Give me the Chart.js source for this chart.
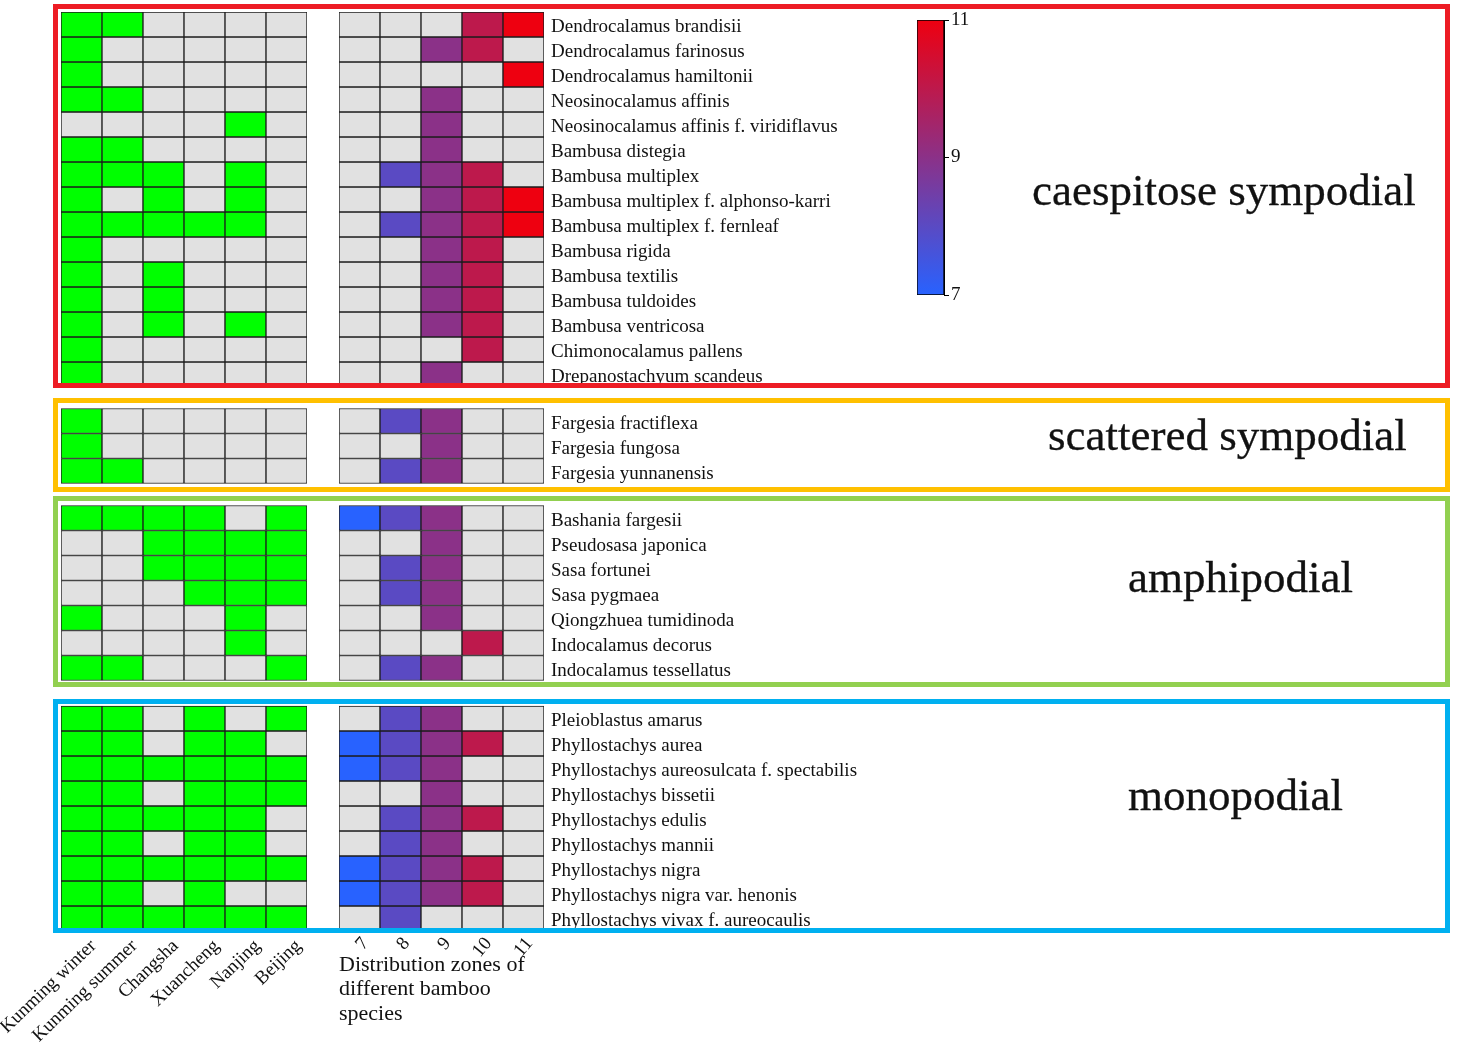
<!DOCTYPE html>
<html>
<head>
<meta charset="utf-8">
<script src="https://cdn.jsdelivr.net/npm/chart.js@4.4.1/dist/chart.umd.min.js"></script>
<style>
  html, body { margin: 0; padding: 0; background: #fff; }
  body { width: 1465px; height: 1052px; position: relative; overflow: hidden; font-family: 'Liberation Serif', 'Times New Roman', serif; }
  canvas { position: absolute; }
  .box { position: absolute; box-sizing: border-box; border: 5px solid; pointer-events: none; z-index: 5; }
  .glabel { position: absolute; font-size: 45px; line-height: 45px; color: #111; white-space: nowrap; z-index: 6; -webkit-text-stroke: 0.3px #111; }
</style>
</head>
<body>
<canvas id="cLeft" width="390" height="1052" style="left:-60px;top:0;width:390px;height:1052px"></canvas>
<canvas id="cRight" width="944" height="1052" style="left:0;top:0;width:944px;height:1052px"></canvas>
<canvas id="cBar" width="120" height="320" style="left:880px;top:0;width:120px;height:320px"></canvas>

<div class="box" style="left:53px;top:4px;width:1397px;height:384px;border-color:#ed1c24"></div>
<div class="box" style="left:53px;top:398px;width:1397px;height:94px;border-color:#ffc000"></div>
<div class="box" style="left:53px;top:496px;width:1397px;height:191px;border-color:#92d050"></div>
<div class="box" style="left:53px;top:699px;width:1397px;height:234px;border-color:#00b0f0"></div>

<div class="glabel" id="g0" style="left:1032px;top:168px"></div>
<div class="glabel" id="g1" style="left:1048px;top:413px"></div>
<div class="glabel" id="g2" style="left:1128px;top:555px"></div>
<div class="glabel" id="g3" style="left:1128px;top:773px"></div>

<script>
// ---------------- DATA ----------------
const cities = ['Kunming winter', 'Kunming summer', 'Changsha', 'Xuancheng', 'Nanjing', 'Beijing'];
const zones = [7, 8, 9, 10, 11];
const zoneTicks = [7, 9, 11];
const groupNames = ['caespitose sympodial', 'scattered sympodial', 'amphipodial', 'monopodial'];
const zoneAxisTitle = ['Distribution zones of', 'different bamboo', 'species'];

const caespitoseSpecies = ['Dendrocalamus brandisii', 'Dendrocalamus farinosus', 'Dendrocalamus hamiltonii',
  'Neosinocalamus affinis', 'Neosinocalamus affinis f. viridiflavus', 'Bambusa distegia', 'Bambusa multiplex',
  'Bambusa multiplex f. alphonso-karri', 'Bambusa multiplex f. fernleaf', 'Bambusa rigida', 'Bambusa textilis',
  'Bambusa tuldoides', 'Bambusa ventricosa', 'Chimonocalamus pallens', 'Drepanostachyum scandeus'];
const caespitoseCities = [
  [1,1,0,0,0,0],[1,0,0,0,0,0],[1,0,0,0,0,0],[1,1,0,0,0,0],[0,0,0,0,1,0],
  [1,1,0,0,0,0],[1,1,1,0,1,0],[1,0,1,0,1,0],[1,1,1,1,1,0],[1,0,0,0,0,0],
  [1,0,1,0,0,0],[1,0,1,0,0,0],[1,0,1,0,1,0],[1,0,0,0,0,0],[1,0,0,0,0,0]];
const caespitoseZones = [[10,11],[9,10],[11],[9],[9],[9],[8,9,10],[9,10,11],[8,9,10,11],[9,10],[9,10],[9,10],[9,10],[10],[9]];

const scatteredSpecies = ['Fargesia fractiflexa', 'Fargesia fungosa', 'Fargesia yunnanensis'];
const scatteredCities = [[1,0,0,0,0,0],[1,0,0,0,0,0],[1,1,0,0,0,0]];
const scatteredZones = [[8,9],[9],[8,9]];

const amphipodialSpecies = ['Bashania fargesii', 'Pseudosasa japonica', 'Sasa fortunei', 'Sasa pygmaea',
  'Qiongzhuea tumidinoda', 'Indocalamus decorus', 'Indocalamus tessellatus'];
const amphipodialCities = [[1,1,1,1,0,1],[0,0,1,1,1,1],[0,0,1,1,1,1],[0,0,0,1,1,1],[1,0,0,0,1,0],[0,0,0,0,1,0],[1,1,0,0,0,1]];
const amphipodialZones = [[7,8,9],[9],[8,9],[8,9],[9],[10],[8,9]];

const monopodialSpecies = ['Pleioblastus amarus', 'Phyllostachys aurea', 'Phyllostachys aureosulcata f. spectabilis',
  'Phyllostachys bissetii', 'Phyllostachys edulis', 'Phyllostachys mannii', 'Phyllostachys nigra',
  'Phyllostachys nigra var. henonis', 'Phyllostachys vivax f. aureocaulis'];
const monopodialCities = [[1,1,0,1,0,1],[1,1,0,1,1,0],[1,1,1,1,1,1],[1,1,0,1,1,1],[1,1,1,1,1,0],[1,1,0,1,1,0],[1,1,1,1,1,1],[1,1,0,1,0,0],[1,1,1,1,1,1]];
const monopodialZones = [[8,9],[7,8,9,10],[7,8,9],[9],[8,9,10],[8,9],[7,8,9,10],[7,8,9,10],[8]];

// ---------------- LAYOUT / STYLE ----------------
const GROUP_GAP_ROWS = [0.86, 0.88, 1.02];
const GREEN = '#00ff00', GRAY = '#e1e1e1', LINE = '#1c1c1c';
const LOW = [40, 98, 255], HIGH = [238, 0, 16];
const FONT = "'Liberation Serif', 'Times New Roman', serif";
Chart.defaults.font.family = FONT;
Chart.defaults.color = '#111';

function zoneColor(z) {
  const t = (z - zones[0]) / (zones[zones.length - 1] - zones[0]);
  const c = LOW.map((v, i) => Math.round(v + (HIGH[i] - v) * t));
  return `rgb(${c[0]},${c[1]},${c[2]})`;
}

const groupsData = [
  [caespitoseSpecies, caespitoseCities, caespitoseZones],
  [scatteredSpecies, scatteredCities, scatteredZones],
  [amphipodialSpecies, amphipodialCities, amphipodialZones],
  [monopodialSpecies, monopodialCities, monopodialZones]
];
const rows = [];
let pos = 0;
groupsData.forEach(([names, cityFlags, zoneLists], gi) => {
  names.forEach((name, i) => rows.push({ name, top: pos + i, cities: cityFlags[i], zones: zoneLists[i] }));
  pos += names.length + (GROUP_GAP_ROWS[gi] || 0);
});
const TOTAL = pos;

groupNames.forEach((g, i) => { document.getElementById('g' + i).textContent = g; });

const cellDefaults = {
  borderColor: LINE, borderWidth: 1, borderSkipped: false, grouped: false,
  barPercentage: 1, categoryPercentage: 1
};

const noPad = s => { s.paddingTop = 0; s.paddingBottom = 0; };
const rowScale = (extra) => Object.assign({
  type: 'linear', reverse: true, min: 0, max: TOTAL
}, extra);

// ---------------- LEFT GRID (cities) ----------------
new Chart(document.getElementById('cLeft'), {
  type: 'bar',
  data: {
    labels: cities,
    datasets: rows.map(r => Object.assign({
      data: cities.map(() => [r.top, r.top + 1]),
      backgroundColor: r.cities.map(f => f ? GREEN : GRAY)
    }, cellDefaults))
  },
  options: {
    responsive: false, animation: false,
    layout: { padding: { left: 121, right: 23, top: 12, bottom: 0 } },
    plugins: { legend: { display: false }, tooltip: { enabled: false } },
    scales: {
      x: {
        grid: { display: false, drawTicks: false }, border: { display: false },
        ticks: { autoSkip: false, minRotation: 44, maxRotation: 44, padding: 4, labelOffset: 12,
                 color: '#111', font: { size: 19, family: FONT } },
        afterFit: s => { s.height = 121; }
      },
      y: rowScale({ display: false })
    }
  }
});

// ---------------- RIGHT GRID (zones) ----------------
new Chart(document.getElementById('cRight'), {
  type: 'bar',
  data: {
    labels: zones.map(String),
    datasets: rows.map(r => Object.assign({
      data: zones.map(() => [r.top, r.top + 1]),
      backgroundColor: zones.map(z => r.zones.includes(z) ? zoneColor(z) : GRAY)
    }, cellDefaults))
  },
  options: {
    responsive: false, animation: false,
    layout: { padding: { left: 339, right: 0, top: 12, bottom: 0 } },
    plugins: { legend: { display: false }, tooltip: { enabled: false } },
    scales: {
      x: {
        grid: { display: false, drawTicks: false }, border: { display: false },
        ticks: { autoSkip: false, minRotation: 50, maxRotation: 50, padding: 2, labelOffset: 6,
                 color: '#111', font: { size: 19, family: FONT } },
        title: { display: true, text: zoneAxisTitle, align: 'start', color: '#111',
                 font: { size: 22, family: FONT, lineHeight: 1.1 }, padding: { top: 0, bottom: 26 } },
        afterFit: s => { s.height = 121; s.paddingLeft = 0; s.paddingRight = 0; }
      },
      y: rowScale({
        position: 'right',
        grid: { display: false, drawTicks: false }, border: { display: false },
        ticks: { autoSkip: false, padding: 7, labelOffset: 3, color: '#111', font: { size: 19, family: FONT },
                 callback: (v, i) => rows[i] ? rows[i].name : '' },
        afterBuildTicks: s => { s.ticks = rows.map(r => ({ value: r.top + 0.5 })); },
        afterFit: s => { s.width = 400; noPad(s); }
      })
    }
  }
});

// ---------------- COLOUR BAR ----------------
new Chart(document.getElementById('cBar'), {
  type: 'bar',
  data: {
    labels: [''],
    datasets: [{
      data: [[zones[0], zones[zones.length - 1]]],
      backgroundColor: (ctx) => {
        const a = ctx.chart.chartArea;
        if (!a) return zoneColor(9);
        const g = ctx.chart.ctx.createLinearGradient(0, a.bottom, 0, a.top);
        zones.forEach((z, i) => g.addColorStop(i / (zones.length - 1), zoneColor(z)));
        return g;
      },
      borderColor: '#000', borderWidth: 1, borderSkipped: false,
      barPercentage: 1, categoryPercentage: 1
    }]
  },
  options: {
    responsive: false, animation: false,
    layout: { padding: { left: 37, right: 0, top: 20, bottom: 25 } },
    plugins: { legend: { display: false }, tooltip: { enabled: false } },
    scales: {
      x: { display: false },
      y: {
        position: 'right', min: zones[0], max: zones[zones.length - 1],
        grid: { drawOnChartArea: false, drawTicks: true, tickLength: 5, color: '#000' },
        border: { display: true, color: '#000', width: 1 },
        ticks: { padding: 2, color: '#111', font: { size: 19, family: FONT } },
        afterBuildTicks: s => { s.ticks = zoneTicks.map(v => ({ value: v })); },
        afterFit: s => { s.width = 56; noPad(s); }
      }
    }
  }
});
</script>
</body>
</html>
